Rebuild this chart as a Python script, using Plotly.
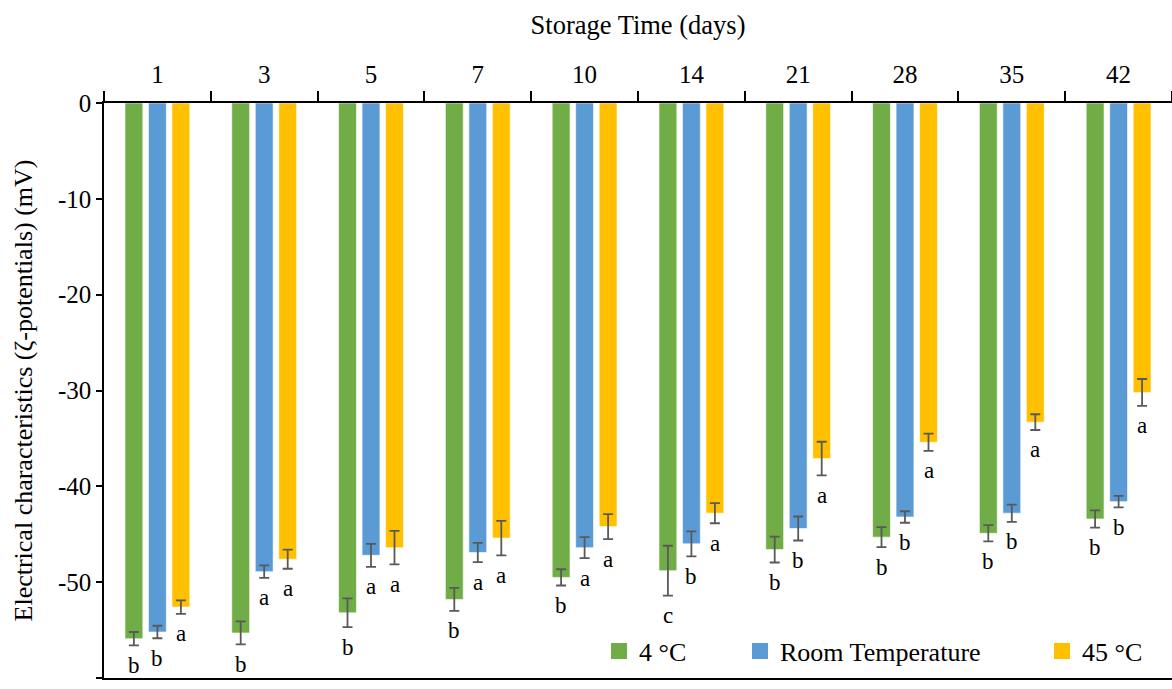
import plotly.graph_objects as go

# Storage time (days) and zeta potential (mV) by storage temperature
days = ["1", "3", "5", "7", "10", "14", "21", "28", "35", "42"]

cold_4c = [-55.9, -55.3, -53.2, -51.8, -49.5, -48.8, -46.6, -45.3, -44.9, -43.4]
cold_4c_sd = [0.7, 1.2, 1.5, 1.2, 0.85, 2.6, 1.35, 1.05, 0.85, 0.9]
cold_4c_sig = ["b", "b", "b", "b", "b", "c", "b", "b", "b", "b"]

room_temp = [-55.2, -48.9, -47.2, -46.9, -46.4, -46.0, -44.4, -43.2, -42.8, -41.6]
room_temp_sd = [0.65, 0.65, 1.2, 1.0, 1.1, 1.3, 1.25, 0.6, 0.9, 0.6]
room_temp_sig = ["b", "a", "a", "a", "a", "b", "b", "b", "b", "b"]

warm_45c = [-52.6, -47.6, -46.4, -45.4, -44.2, -42.8, -37.1, -35.4, -33.3, -30.2]
warm_45c_sd = [0.7, 1.0, 1.75, 1.8, 1.3, 1.05, 1.75, 0.9, 0.82, 1.4]
warm_45c_sig = ["a"] * 10

y_tick_vals = [0, -10, -20, -30, -40, -50, -60]
y_tick_text = ["0", "-10", "-20", "-30", "-40", "-50", "-60"]

FONT = "Liberation Serif, Times New Roman, serif"
BARGAP = 0.34
GROUPGAP = 0.24
slot = (1 - BARGAP) / 3

series = [
    ("4 °C", cold_4c, cold_4c_sd, cold_4c_sig, "#70AD47", "legend", 0.4635),
    ("Room Temperature", room_temp, room_temp_sd, room_temp_sig, "#5B9BD5", "legend2", 0.5955),
    ("45 °C", warm_45c, warm_45c_sd, warm_45c_sig, "#FFC000", "legend3", 0.8783),
]

fig = go.Figure()
annotations = []
legends = {}
for k, (name, vals, sd, sig, color, leg, lx) in enumerate(series):
    fig.add_trace(go.Bar(
        x=days, y=vals, name=name, showlegend=False,
        marker=dict(color=color, line=dict(color="white", width=0.6)),
        error_y=dict(type="data", array=sd, visible=True,
                     color="#595959", thickness=1.8, width=5),
    ))
    # square legend key for the series
    fig.add_trace(go.Scatter(
        x=[None], y=[None], name=name, legend=leg, mode="markers",
        marker=dict(symbol="square", size=16, color=color),
    ))
    offset = (k - 1) * slot
    for i, (v, e, s) in enumerate(zip(vals, sd, sig)):
        annotations.append(dict(
            x=i + offset, y=v - e, xref="x", yref="y", text=s,
            showarrow=False, yshift=-20,
            font=dict(family=FONT, size=23, color="black"),
        ))
    legends[leg] = dict(
        x=lx, y=0.047, xanchor="left", yanchor="middle",
        orientation="h", bgcolor="rgba(0,0,0,0)",
        font=dict(family=FONT, size=26, color="black"),
    )

fig.update_layout(
    width=1172, height=689, autosize=False,
    margin=dict(l=104, r=0, t=103, b=11),
    plot_bgcolor="white", paper_bgcolor="white",
    barmode="group", bargap=BARGAP, bargroupgap=GROUPGAP,
    font=dict(family=FONT, color="black"),
    annotations=annotations,
    showlegend=True,
    **legends,
)

fig.update_xaxes(
    type="category", side="top",
    showline=True, linecolor="black", linewidth=2, mirror=True,
    ticks="outside", tickson="boundaries", ticklen=10, tickwidth=1.5, tickcolor="black",
    ticklabelstandoff=8,
    tickfont=dict(family=FONT, size=25, color="black"),
    title=dict(text="Storage Time (days)", font=dict(family=FONT, size=26.5, color="black"), standoff=19),
    showgrid=False,
)

fig.update_yaxes(
    range=[-60, 0], tickvals=y_tick_vals, ticktext=y_tick_text,
    showline=True, linecolor="black", linewidth=1.5,
    ticks="outside", ticklen=6, tickwidth=1.5, tickcolor="black",
    tickfont=dict(family=FONT, size=25, color="black"),
    title=dict(text="Electrical characteristics (ζ-potentials) (mV)",
               font=dict(family=FONT, size=26, color="black"), standoff=18),
    showgrid=False, zeroline=False,
)

fig.write_html("out.html")
